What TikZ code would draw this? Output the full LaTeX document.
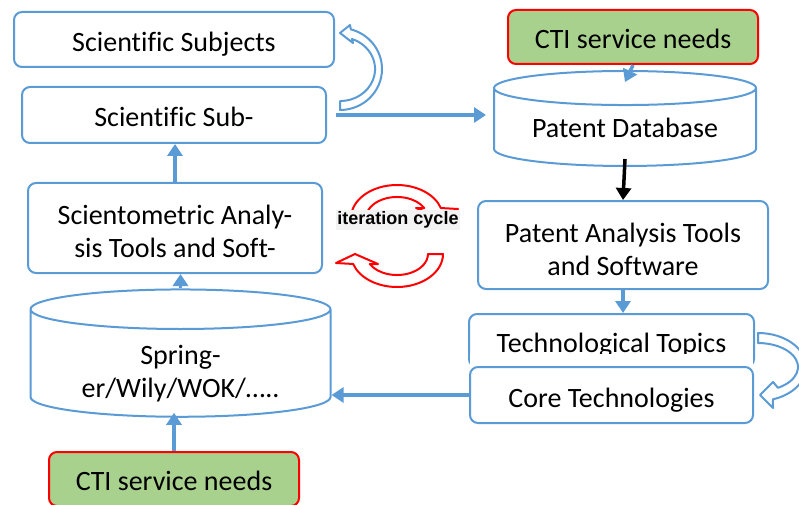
\documentclass[tikz,border=0pt]{standalone}
\usepackage{fontspec}
\setmainfont{Carlito}[Ligatures=NoCommon]
\newfontfamily\iterfont{Liberation Sans}
\usetikzlibrary{arrows.meta,shapes.geometric}
\definecolor{boxblue}{RGB}{91,155,213}
\definecolor{needgreen}{RGB}{169,209,142}
\definecolor{cyclegray}{RGB}{242,242,242}
\tikzset{cyc/.pic={
	\draw[cycline] (46,0) arc[start angle=0, end angle=-162.4, x radius=46, y radius=33] -- (-61,-9) -- (-42,0) -- (-19,-10) -- (-27.3,-10) arc[start angle=-151.6, end angle=0, x radius=31, y radius=21] -- cycle;
}}
\begin{document}
\begin{tikzpicture}[x=1pt, y=1pt, font=\fontsize{28}{33}\selectfont]
	\tikzstyle{box} = [rectangle, rounded corners=8pt, draw=boxblue, line width=2pt, fill=white, align=center, inner sep=0pt, text height=24pt, text depth=0pt]
	\tikzstyle{base} = [cylinder, shape border rotate=90, draw=boxblue, line width=2pt, fill=white, align=center, inner sep=0pt, text depth=0pt]
	\tikzstyle{need} = [rectangle, rounded corners=8pt, draw=red, line width=2pt, fill=needgreen, inner sep=0pt, text height=23pt, text depth=0pt]
	\tikzstyle{flow} = [color=boxblue, line width=3.5pt, -{Triangle[width=15pt,length=12pt]}]
	\tikzstyle{turn} = [draw=boxblue, line width=2pt, fill=white, line join=round]
	\tikzstyle{cycline} = [draw=red, line width=2pt, fill=white, line join=round]
	\useasboundingbox (0,0) rectangle (799,504);
	% left column
	\node[box, minimum width=320pt, minimum height=55pt](A) at (174,464.5) {Scientific Subjects};
	\node[box, minimum width=304pt, minimum height=56pt](B) at (174,389) {Scientific Sub-};
	\node[box, minimum width=294pt, minimum height=90pt, text height=59pt](C) at (175,276) {Scientometric Analy-\\sis Tools and Soft-};
	\node[base, aspect=0.2, minimum width=300pt, minimum height=127pt, text height=67pt](D) at (180.5,140.5) {Spring-\\er/Wily/WOK/…..};
	\node[need, minimum width=250pt, minimum height=54pt](E) at (174,25) {CTI service needs};
	% right column
	\node[need, minimum width=250pt, minimum height=54pt](F) at (633,467) {CTI service needs};
	\node[base, aspect=0.183, minimum width=262pt, minimum height=95pt](G) at (625,376.5) {Patent Database};
	\node[box, minimum width=290pt, minimum height=88pt, text height=61pt](H) at (623,259) {Patent Analysis Tools\\and Software};
	\node[box, minimum width=285pt, minimum height=53pt](I) at (611.5,163.5) {Technological Topics};
	\fill[white] ([xshift=2pt]I.south west) rectangle ([xshift=-2pt,yshift=14pt]I.south east);
	\node[box, minimum width=283pt, minimum height=56pt](J) at (611.5,109) {Core Technologies};
	% arrows
	\path[flow] (F.south) edge ([yshift=-12pt]G.north);
	\path[flow, color=black] ([yshift=8pt]G.south) edge (H.north);
	\path[flow] (H.south) edge (H.south |- I.north);
	\path[flow] (J.west) edge (J.west -| D.east);
	\path[flow] (E.north) edge ([yshift=5pt]D.south -| E.north);
	\path[flow] (D.north) edge (D.north |- C.south);
	\path[flow] (C.north) edge (C.north |- B.south);
	\path[flow] ([xshift=9pt]B.east) edge ([xshift=-7pt]G.west |- B.east);
	% block arrows
	\draw[turn] (340,394) arc[start angle=-90, end angle=75, x radius=42, y radius=41] -- (350,479) -- (340,471) -- (353,461) -- (352,465) arc[start angle=70, end angle=-90, x radius=35, y radius=32] -- cycle;
	\draw[turn] (758,171) arc[start angle=90, end angle=-72, x radius=48, y radius=34] -- (773,96) -- (760,109) -- (773,122) -- (778,116.2) arc[start angle=-60, end angle=90, x radius=40, y radius=24] -- cycle;
	% iteration cycle
	\pic at (397,250) {cyc};
	\pic[rotate=180] at (397,286) {cyc};
	\node[font=\iterfont\bfseries\fontsize{18}{20}\selectfont, fill=cyclegray, inner xsep=1pt, inner ysep=2pt](K) at (398,284) {iteration cycle};
\end{tikzpicture}
\end{document}
